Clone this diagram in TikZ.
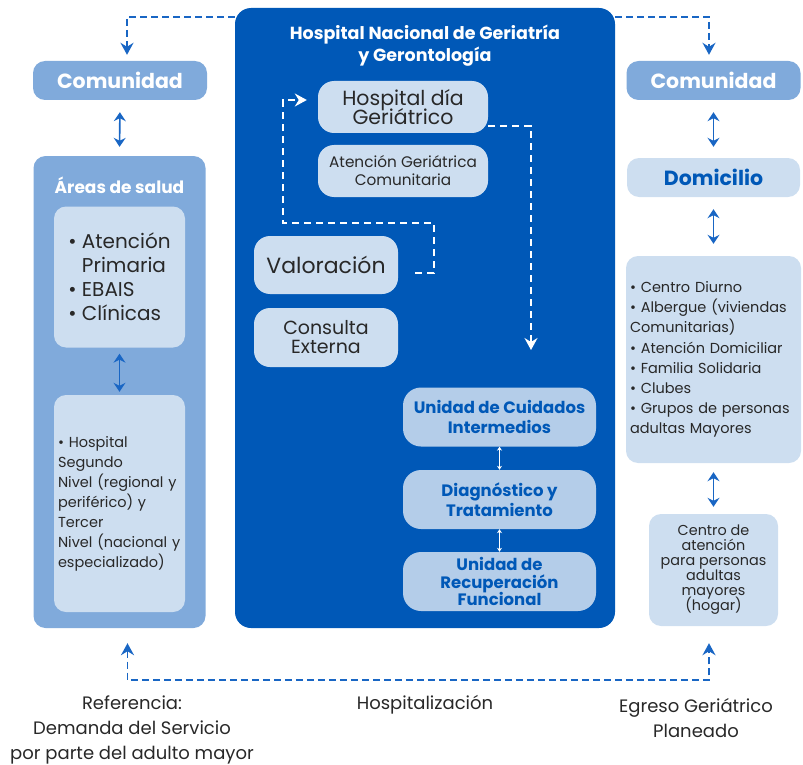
\documentclass[tikz,border=0pt]{standalone}
\usepackage{fontspec}
\setmainfont{Poppins}
\usetikzlibrary{arrows.meta}
\definecolor{azulhng}{RGB}{0,88,183}
\definecolor{azulmedio}{RGB}{128,170,219}
\definecolor{azulclaro}{RGB}{205,222,240}
\definecolor{azulunidad}{RGB}{180,205,233}
\definecolor{gristexto}{RGB}{40,40,40}
\definecolor{azulflecha}{RGB}{25,102,196}
\lineskiplimit=-100pt
\tikzset{
	caja/.style={rounded corners=12pt, inner sep=4pt, align=center},
	comunidad/.style={caja, fill=azulmedio, text=white, font=\bfseries\fontsize{20.5}{24}\selectfont, minimum width=174pt, minimum height=39pt},
	clara/.style={caja, fill=azulclaro, text=gristexto},
	unidad/.style={caja, rounded corners=18pt, fill=azulunidad, text=azulhng, font=\bfseries\fontsize{16.5}{20}\selectfont, minimum width=193pt, minimum height=59pt},
	etiqueta/.style={text=gristexto, align=center, font=\fontsize{18}{25}\selectfont},
	dobleazul/.style={{Stealth[length=9pt,width=12pt,inset=3pt]}-{Stealth[length=9pt,width=12pt,inset=3pt]}, azulflecha, line width=1.6pt},
	dobleblanca/.style={{Stealth[length=4pt,width=5pt]}-{Stealth[length=4pt,width=5pt]}, white, line width=0.8pt},
	discont/.style={dash pattern=on 7pt off 4pt, line width=1.8pt, azulflecha},
	discontb/.style={dash pattern=on 7pt off 5pt, line width=1.6pt, white},
	punta/.style={-{Stealth[length=12pt,width=13pt,inset=4pt]}},
}
\begin{document}
\begin{tikzpicture}[x=1pt,y=-1pt]
	\useasboundingbox (0,0) rectangle (803,765);
	% columna izquierda
	\node[comunidad] (com1) at (120,80.5) {Comunidad};
	\node[caja, fill=azulmedio, minimum width=172pt, minimum height=472pt] (areas) at (119.5,392) {};
	\node[text=white, font=\bfseries\fontsize{17}{20}\selectfont] (areastit) at (119.5,185) {Áreas de salud};
	\node[clara, minimum width=131pt, minimum height=141pt, align=left, font=\fontsize{20}{24}\selectfont] (aps) at (119.5,277) {• Atención\\\phantom{• }Primaria\\• EBAIS\\• Clínicas};
	\node[clara, minimum width=131pt, minimum height=217pt, text width=123pt, align=left, font=\fontsize{14.5}{20}\selectfont] (hsn) at (119.5,503.5) {• Hospital\\Segundo\\Nivel (regional y\\periférico) y\\Tercer\\Nivel (nacional y\\especializado)};
	\draw[dobleazul, shorten <=12pt, shorten >=9pt] (com1.south) -- (areas.north);
	\draw[dobleazul, shorten <=6pt, shorten >=3pt] (aps.south) -- (hsn.north);
	% hospital
	\node[fill=azulhng, rounded corners=16pt, minimum width=380pt, minimum height=620pt] (hng) at (425,318) {};
	\node[text=white, align=center, font=\bfseries\fontsize{17.5}{22}\selectfont] (hngtit) at (425,46) {Hospital Nacional de Geriatría\\y Gerontología};
	\node[clara, rounded corners=16pt, minimum width=170pt, minimum height=52pt, font=\fontsize{20.5}{18.5}\selectfont] (hdia) at (403,107) {Hospital día\\Geriátrico};
	\node[clara, rounded corners=16pt, minimum width=170pt, minimum height=52pt, font=\fontsize{15.3}{18}\selectfont] (agc) at (403,171) {Atención Geriátrica\\Comunitaria};
	\node[clara, rounded corners=16pt, minimum width=144pt, minimum height=58pt, font=\fontsize{22}{24}\selectfont] (valo) at (326,265) {Valoración};
	\node[clara, rounded corners=16pt, minimum width=144pt, minimum height=59pt, font=\fontsize{19}{19}\selectfont] (cext) at (326,337.5) {Consulta\\Externa};
	\node[unidad] (uci) at (499.5,417) {Unidad de Cuidados\\Intermedios};
	\node[unidad] (diag) at (499.5,499.5) {Diagnóstico y\\Tratamiento};
	\node[unidad, font=\bfseries\fontsize{16.5}{17.5}\selectfont] (urf) at (499.5,581.5) {Unidad de\\Recuperación\\Funcional};
	\draw[dobleblanca] (uci.south) -- (diag.north);
	\draw[dobleblanca] (diag.south) -- (urf.north);
	\coordinate (flujo) at (531,350);
	\draw[discontb, punta] ([xshift=17pt,yshift=-8pt]valo.east) -| (434,223) -| (283,100) -- ([xshift=-11pt,yshift=7pt]hdia.west);
	\draw[discontb, punta] ([yshift=-19pt]hdia.east) -| (flujo);
	% columna derecha
	\node[comunidad] (com2) at (713.5,80.5) {Comunidad};
	\node[clara, minimum width=173pt, minimum height=39pt, text=azulhng, font=\bfseries\fontsize{20.5}{24}\selectfont] (dom) at (713.5,177.5) {Domicilio};
	\node[clara, minimum width=173pt, minimum height=207pt, text width=167pt, align=left, font=\fontsize{14.5}{20.2}\selectfont] (lista) at (713.5,359.5) {• Centro Diurno\\• Albergue (viviendas\\Comunitarias)\\• Atención Domiciliar\\• Familia Solidaria\\• Clubes\\• Grupos de personas\\adultas Mayores};
	\node[clara, minimum width=129pt, minimum height=112pt, font=\fontsize{14.4}{15}\selectfont] (centro) at (713.5,570) {Centro de\\atención\\para personas\\adultas\\mayores\\(hogar)};
	\draw[dobleazul, shorten <=12pt, shorten >=11pt] (com2.south) -- (dom.north);
	\draw[dobleazul, shorten <=12pt, shorten >=12pt] (dom.south) -- (lista.north);
	\draw[dobleazul, shorten <=9pt, shorten >=7pt] (lista.south) -- (centro.north);
	% flujos externos
	\draw[discont, punta] ([yshift=-9pt]hng.north west) -| ([xshift=7pt,yshift=6pt]com1.north);
	\draw[discont, punta] ([yshift=-9pt]hng.north east) -| ([xshift=-4.5pt,yshift=6pt]com2.north);
	\draw[discont, {Stealth[length=12pt,width=13pt,inset=4pt]}-{Stealth[length=12pt,width=13pt,inset=4pt]}] ([xshift=8pt,yshift=-15pt]areas.south) |- ([yshift=-52pt]hng.south) -| ([xshift=-4.5pt,yshift=-17pt]centro.south);
	% etiquetas
	\node[etiqueta] (ref) at (132,730) {Referencia:\\Demanda del Servicio\\por parte del adulto mayor};
	\node[etiqueta] (hosp) at (425,705) {Hospitalización};
	\node[etiqueta] (egreso) at (696,718) {Egreso Geriátrico\\Planeado};
\end{tikzpicture}
\end{document}
